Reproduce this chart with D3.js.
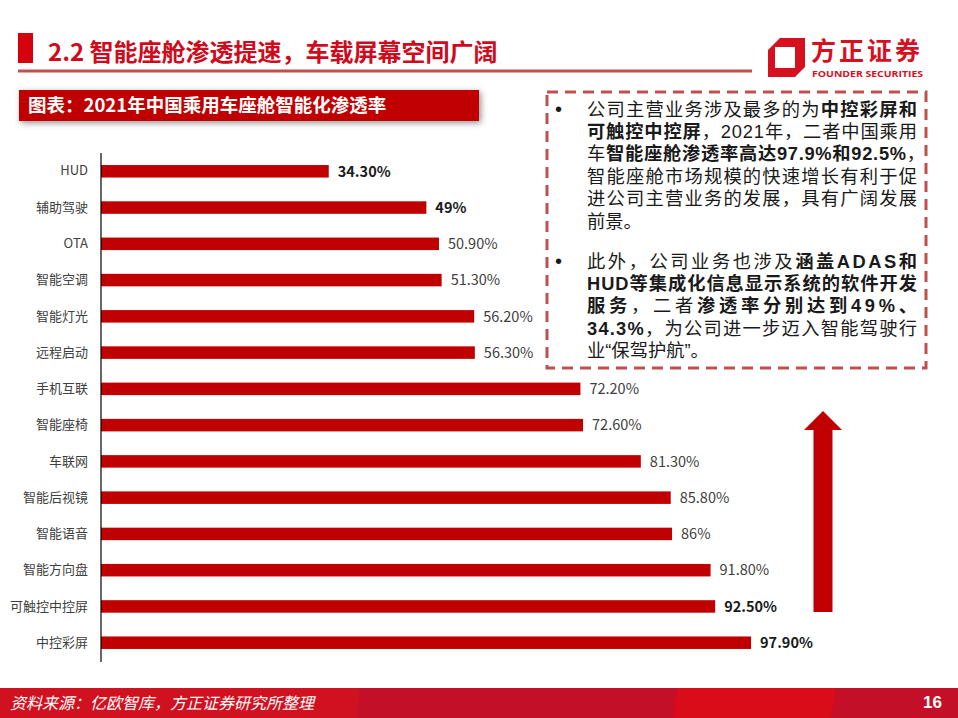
<!DOCTYPE html>
<html>
<head>
<meta charset="utf-8">
<script src="https://cdn.jsdelivr.net/npm/d3@7"></script>
<style>
  html, body { margin: 0; padding: 0; background: #fff; }
  svg { display: block; font-family: "Noto Sans CJK SC", "Noto Sans", sans-serif; }
</style>
</head>
<body>
<svg id="chart" width="958" height="718"></svg>
<script>
// chart data
let categories = ["HUD", "辅助驾驶", "OTA", "智能空调", "智能灯光", "远程启动", "手机互联",
  "智能座椅", "车联网", "智能后视镜", "智能语音", "智能方向盘", "可触控中控屏", "中控彩屏"];
let values = [34.3, 49, 50.9, 51.3, 56.2, 56.3, 72.2, 72.6, 81.3, 85.8, 86, 91.8, 92.5, 97.9];
let valueLabels = ["34.30%", "49%", "50.90%", "51.30%", "56.20%", "56.30%", "72.20%",
  "72.60%", "81.30%", "85.80%", "86%", "91.80%", "92.50%", "97.90%"];
let boldLabels = ["HUD", "辅助驾驶", "可触控中控屏", "中控彩屏"];

let title = "2.2 智能座舱渗透提速，车载屏幕空间广阔";
let subtitle = "图表：2021年中国乘用车座舱智能化渗透率";
let source = "资料来源：亿欧智库，方正证券研究所整理";
let pageNo = "16";

// text box lines: [text, bold] pieces and target width (0 = not justified)
let para1 = [
  [[["公司主营业务涉及最多的为", 0], ["中控彩屏和", 1]], 330],
  [[["可触控中控屏", 1], ["，2021年，二者中国乘用", 0]], 330],
  [[["车", 0], ["智能座舱渗透率高达97.9%和92.5%", 1], ["，", 0]], 338],
  [[["智能座舱市场规模的快速增长有利于促", 0]], 330],
  [[["进公司主营业务的发展，具有广阔发展", 0]], 330],
  [[["前景。", 0]], 0]
];
let para2 = [
  [[["此外，公司业务也涉及", 0], ["涵盖ADAS和", 1]], 330],
  [[["HUD等集成化信息显示系统的软件开发", 1]], 330],
  [[["服务", 1], ["，二者", 0], ["渗透率分别达到49%、", 1]], 330],
  [[["34.3%", 1], ["，为公司进一步迈入智能驾驶行", 0]], 330],
  [[["业“保驾护航”。", 0]], 0]
];

let svg = d3.select("#chart");
let width = +svg.attr("width");
let height = +svg.attr("height");

let defs = svg.append("defs");
let shadow = defs.append("filter").attr("id", "shadow")
  .attr("x", "-10%").attr("y", "-40%").attr("width", "120%").attr("height", "180%");
shadow.append("feDropShadow").attr("dx", 2).attr("dy", 2)
  .attr("stdDeviation", 3).attr("flood-color", "#777").attr("flood-opacity", 0.8);

// ---- header ----
svg.append("rect").attr("x", 18).attr("y", 33).attr("width", 15).attr("height", 30).attr("fill", "#d7000f");
svg.append("text").attr("x", 48).attr("y", 61)
  .attr("font-size", 24).attr("font-weight", "bold").attr("fill", "#cf0a1c")
  .text(title);
svg.append("rect").attr("x", 18).attr("y", 69.5).attr("width", 734).attr("height", 3).attr("fill", "#c0504d");

// logo
let logo = svg.append("g");
logo.append("path")
  .attr("d", "M780,38 L805,38 L805,67 L795,77 L768,77 L768,50 Z")
  .attr("fill", "#d7101f");
logo.append("rect").attr("x", 775).attr("y", 47).attr("width", 20).attr("height", 21).attr("fill", "#fff");
logo.append("text").attr("x", 811).attr("y", 60)
  .attr("font-size", 25).attr("font-weight", "bold").attr("fill", "#d7101f")
  .attr("letter-spacing", 3)
  .text("方正证券");
logo.append("text").attr("x", 812).attr("y", 76.5)
  .attr("font-size", 9.5).attr("font-weight", "bold").attr("fill", "#d7101f")
  .attr("textLength", 111).attr("lengthAdjust", "spacingAndGlyphs")
  .attr("font-family", "'Open Sans', sans-serif")
  .text("FOUNDER SECURITIES");

// subtitle bar
svg.append("rect").attr("x", 19).attr("y", 90).attr("width", 460).attr("height", 31)
  .attr("fill", "#c00000").attr("filter", "url(#shadow)");
svg.append("text").attr("x", 28).attr("y", 112)
  .attr("font-size", 18.5).attr("font-weight", "bold").attr("fill", "#fff")
  .text(subtitle);

// ---- bar chart ----
let xScale = d3.scaleLinear().domain([0, 100]).range([101, 765]);
let yScale = d3.scaleBand().domain(categories).range([153, 661])
  .paddingInner(0.655).paddingOuter(0.332);

svg.append("g")
  .selectAll("rect")
  .data(categories)
  .enter()
  .append("rect")
  .attr("x", xScale(0))
  .attr("y", function(d) { return yScale(d); })
  .attr("width", function(d, i) { return xScale(values[i]) - xScale(0); })
  .attr("height", yScale.bandwidth())
  .attr("fill", "#c00000");

let yAxis = svg.append("g")
  .attr("transform", "translate(" + xScale(0) + ",0)")
  .call(d3.axisLeft(yScale).tickSize(0).tickPadding(13));
yAxis.select(".domain").attr("d", "M0,153V662").attr("stroke", "#000").attr("stroke-width", 1.2);
yAxis.selectAll(".tick text")
  .attr("font-size", 13).attr("fill", "#404040")
  .attr("font-family", "'Noto Sans CJK SC', sans-serif");

svg.append("g")
  .selectAll("text")
  .data(categories)
  .enter()
  .append("text")
  .attr("x", function(d, i) { return xScale(values[i]) + 9; })
  .attr("y", function(d) { return yScale(d) + yScale.bandwidth() / 2; })
  .attr("dy", "0.36em")
  .attr("font-size", 14.5)
  .attr("font-weight", function(d) { return boldLabels.indexOf(d) >= 0 ? "bold" : "normal"; })
  .attr("fill", function(d) { return boldLabels.indexOf(d) >= 0 ? "#1a1a1a" : "#404040"; })
  .text(function(d, i) { return valueLabels[i]; });

// rising arrow
svg.append("path")
  .attr("d", "M813.5,612 L813.5,430 L804,430 L823,411 L842,430 L832.5,430 L832.5,612 Z")
  .attr("fill", "#c00000");

// ---- text box ----
svg.append("rect").attr("x", 547).attr("y", 92).attr("width", 379).attr("height", 276)
  .attr("fill", "none").attr("stroke", "#c0504d").attr("stroke-width", 3)
  .attr("stroke-dasharray", "11,7");

// Latin font first keeps each line's box within the tight line spacing
let bodyFont = "'Liberation Sans', 'Noto Sans CJK SC', sans-serif";

function writeParagraph(lines, y0) {
  svg.append("text").attr("x", 555).attr("y", y0).attr("dy", "0.36em")
    .attr("font-family", bodyFont)
    .attr("font-size", 20).attr("fill", "#1a1a1a").text("•");
  lines.forEach(function(line, k) {
    let t = svg.append("text")
      .attr("x", 587).attr("y", y0 + k * 22.4).attr("dy", "0.36em")
      .attr("font-family", bodyFont)
      .attr("font-size", 18.3).attr("fill", "#1a1a1a");
    line[0].forEach(function(piece) {
      t.append("tspan").attr("font-weight", piece[1] ? "bold" : "normal").text(piece[0]);
    });
    if (line[1] > 0) {
      // spread the characters to fill the line, like justified text
      let natural = t.node().getComputedTextLength();
      let n = line[0].map(function(p) { return p[0]; }).join("").length;
      t.attr("letter-spacing", Math.max(0, (line[1] - natural) / (n - 1)));
    }
  });
}
writeParagraph(para1, 109);
writeParagraph(para2, 261);

// ---- footer ----
let footer = svg.append("g");
footer.append("rect").attr("x", 0).attr("y", 688).attr("width", width).attr("height", 30).attr("fill", "#c40f28");
footer.append("path").attr("d", "M0,688 L360,688 L357,718 L0,718 Z").attr("fill", "#d0111f");
footer.append("path").attr("d", "M677,688 L836,688 L831,718 L673,718 Z").attr("fill", "#da0c19");
footer.append("text").attr("x", 10).attr("y", 703).attr("dy", "0.36em")
  .attr("font-size", 16).attr("font-style", "italic").attr("fill", "#fff")
  .text(source);
footer.append("text").attr("x", 942).attr("y", 702).attr("dy", "0.36em")
  .attr("text-anchor", "end").attr("font-size", 17).attr("font-weight", "bold").attr("fill", "#fff")
  .attr("font-family", "'Liberation Sans', Arial, sans-serif")
  .text(pageNo);
</script>
</body>
</html>
